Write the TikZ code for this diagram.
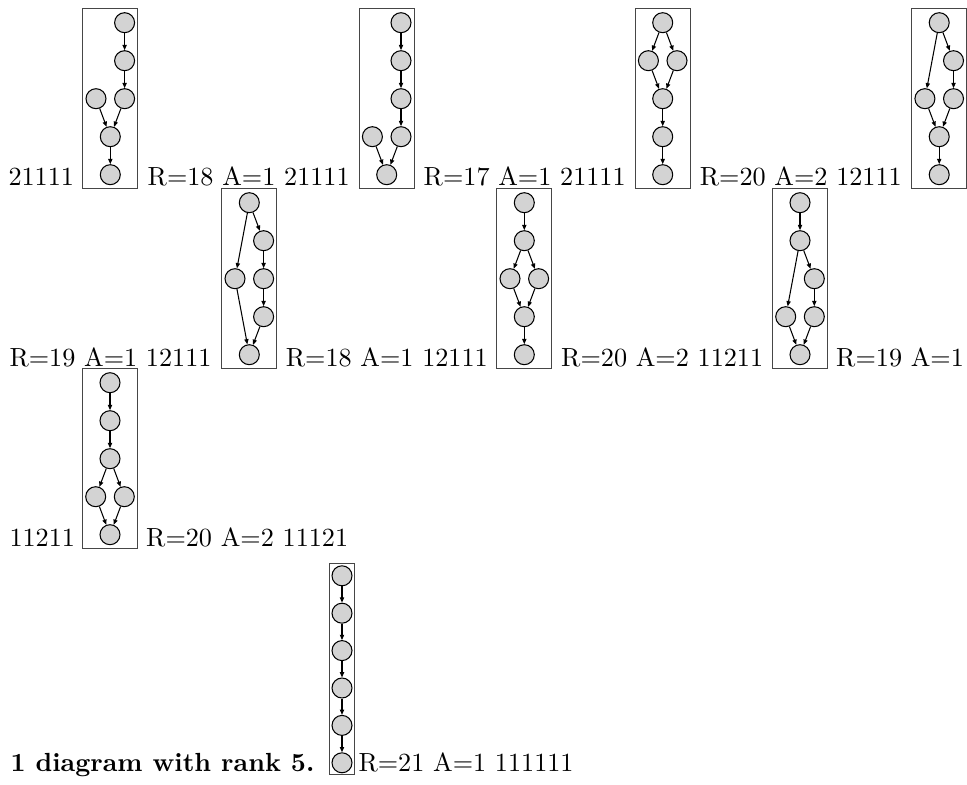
\documentclass[tikz,border=0pt]{standalone}
\usepackage{tikz}
\usetikzlibrary{arrows.meta, fit}
\definecolor{vgray}{RGB}{211,211,211}
\definecolor{fgray}{RGB}{70,70,70}
\tikzset{
    vtx/.style={circle, draw=black, fill=vgray, minimum size=7.63pt, inner sep=0pt, line width=0.4pt},
    frame/.style={rectangle, draw=fgray, line width=0.45pt, inner xsep=1.03pt, inner ysep=1.3pt},
    thinframe/.style={frame, inner xsep=0.76pt, inner ysep=0.57pt},
    edge/.style={-{Triangle[length=2pt, width=1.6pt]}, black, line width=0.4pt},
    txt/.style={inner sep=0pt, font=\normalsize},
}

\begin{document}
\begin{tikzpicture}[x=0.3817pt, y=-0.3817pt]
\useasboundingbox (0,0) rectangle (967,785);

% row 1
\node[txt, anchor=base west] (t1) at (8,186) {21111};

\begin{scope}[shift={(110.3,9.3)}]
\node[vtx] (a0) at (14.3,13.4) {};
\node[vtx] (a1) at (14.3,51.4) {};
\node[vtx] (a2) at (-14.3,89.4) {};
\node[vtx] (a3) at (14.3,89.4) {};
\node[vtx] (a4) at (0,127.4) {};
\node[vtx] (a5) at (0,165.4) {};
\node[frame, fit=(a0)(a1)(a2)(a3)(a4)(a5)] (fa) {};
\draw[edge] (a0) -- (a1);
\draw[edge] (a1) -- (a3);
\draw[edge] (a2) -- (a4);
\draw[edge] (a3) -- (a4);
\draw[edge] (a4) -- (a5);
\end{scope}

\node[txt, anchor=base] (t2) at (248.7,186) {R=18 A=1 21111};

\begin{scope}[shift={(386.7,9.3)}]
\node[vtx] (b0) at (14.3,13.4) {};
\node[vtx] (b1) at (14.3,51.4) {};
\node[vtx] (b2) at (14.3,89.4) {};
\node[vtx] (b3) at (-14.3,127.4) {};
\node[vtx] (b4) at (14.3,127.4) {};
\node[vtx] (b5) at (0,165.4) {};
\node[frame, fit=(b0)(b1)(b2)(b3)(b4)(b5)] (fb) {};
\draw[edge] (b0) -- (b1);
\draw[edge] (b1) -- (b2);
\draw[edge] (b2) -- (b4);
\draw[edge] (b3) -- (b5);
\draw[edge] (b4) -- (b5);
\end{scope}

\node[txt, anchor=base] (t3) at (524.7,186) {R=17 A=1 21111};

\begin{scope}[shift={(662.7,9.3)}]
\node[vtx] (c0) at (0,13.4) {};
\node[vtx] (c1) at (-14.3,51.4) {};
\node[vtx] (c2) at (14.3,51.4) {};
\node[vtx] (c3) at (0,89.4) {};
\node[vtx] (c4) at (0,127.4) {};
\node[vtx] (c5) at (0,165.4) {};
\node[frame, fit=(c0)(c1)(c2)(c3)(c4)(c5)] (fc) {};
\draw[edge] (c0) -- (c1);
\draw[edge] (c0) -- (c2);
\draw[edge] (c1) -- (c3);
\draw[edge] (c2) -- (c3);
\draw[edge] (c3) -- (c4);
\draw[edge] (c4) -- (c5);
\end{scope}

\node[txt, anchor=base] (t4) at (800.8,186) {R=20 A=2 12111};

\begin{scope}[shift={(939.2,9.3)}]
\node[vtx] (d0) at (0,13.4) {};
\node[vtx] (d1) at (14.3,51.4) {};
\node[vtx] (d2) at (-14.3,89.4) {};
\node[vtx] (d3) at (14.3,89.4) {};
\node[vtx] (d4) at (0,127.4) {};
\node[vtx] (d5) at (0,165.4) {};
\node[frame, fit=(d0)(d1)(d2)(d3)(d4)(d5)] (fd) {};
\draw[edge] (d0) -- (d2);
\draw[edge] (d0) -- (d1);
\draw[edge] (d1) -- (d3);
\draw[edge] (d2) -- (d4);
\draw[edge] (d3) -- (d4);
\draw[edge] (d4) -- (d5);
\end{scope}

% row 2
\node[txt, anchor=base west] (t5) at (9,366.3) {R=19 A=1 12111};

\begin{scope}[shift={(249.3,189.3)}]
\node[vtx] (e0) at (0,13.4) {};
\node[vtx] (e1) at (14.3,51.4) {};
\node[vtx] (e2) at (-14.3,89.4) {};
\node[vtx] (e3) at (14.3,89.4) {};
\node[vtx] (e4) at (14.3,127.4) {};
\node[vtx] (e5) at (0,165.4) {};
\node[frame, fit=(e0)(e1)(e2)(e3)(e4)(e5)] (fe) {};
\draw[edge] (e0) -- (e2);
\draw[edge] (e0) -- (e1);
\draw[edge] (e1) -- (e3);
\draw[edge] (e3) -- (e4);
\draw[edge] (e2) -- (e5);
\draw[edge] (e4) -- (e5);
\end{scope}

\node[txt, anchor=base] (t6) at (386.8,366.3) {R=18 A=1 12111};

\begin{scope}[shift={(524.3,189.3)}]
\node[vtx] (f0) at (0,13.4) {};
\node[vtx] (f1) at (0,51.4) {};
\node[vtx] (f2) at (-14.3,89.4) {};
\node[vtx] (f3) at (14.3,89.4) {};
\node[vtx] (f4) at (0,127.4) {};
\node[vtx] (f5) at (0,165.4) {};
\node[frame, fit=(f0)(f1)(f2)(f3)(f4)(f5)] (ff) {};
\draw[edge] (f0) -- (f1);
\draw[edge] (f1) -- (f2);
\draw[edge] (f1) -- (f3);
\draw[edge] (f2) -- (f4);
\draw[edge] (f3) -- (f4);
\draw[edge] (f4) -- (f5);
\end{scope}

\node[txt, anchor=base] (t7) at (662.2,366.3) {R=20 A=2 11211};

\begin{scope}[shift={(800,189.3)}]
\node[vtx] (h0) at (0,13.4) {};
\node[vtx] (h1) at (0,51.4) {};
\node[vtx] (h2) at (14.3,89.4) {};
\node[vtx] (h3) at (-14.3,127.4) {};
\node[vtx] (h4) at (14.3,127.4) {};
\node[vtx] (h5) at (0,165.4) {};
\node[frame, fit=(h0)(h1)(h2)(h3)(h4)(h5)] (fh) {};
\draw[edge] (h0) -- (h1);
\draw[edge] (h1) -- (h3);
\draw[edge] (h1) -- (h2);
\draw[edge] (h2) -- (h4);
\draw[edge] (h3) -- (h5);
\draw[edge] (h4) -- (h5);
\end{scope}

\node[txt, anchor=base west] (t8) at (835.7,366.3) {R=19 A=1};

% row 3
\node[txt, anchor=base west] (t9) at (9,546) {11211};

\begin{scope}[shift={(110,369.3)}]
\node[vtx] (k0) at (0,13.4) {};
\node[vtx] (k1) at (0,51.4) {};
\node[vtx] (k2) at (0,89.4) {};
\node[vtx] (k3) at (-14.3,127.4) {};
\node[vtx] (k4) at (14.3,127.4) {};
\node[vtx] (k5) at (0,165.4) {};
\node[frame, fit=(k0)(k1)(k2)(k3)(k4)(k5)] (fk) {};
\draw[edge] (k0) -- (k1);
\draw[edge] (k1) -- (k2);
\draw[edge] (k2) -- (k3);
\draw[edge] (k2) -- (k4);
\draw[edge] (k3) -- (k5);
\draw[edge] (k4) -- (k5);
\end{scope}

\node[txt, anchor=base west] (t10) at (145.7,546) {R=20 A=2 11121};

% row 4
\node[txt, anchor=base west, font=\normalsize\bfseries] (t11) at (10,771) {1 diagram with rank 5.};

\begin{scope}[shift={(342,564.3)}]
\node[vtx] (m0) at (0,11.5) {};
\node[vtx] (m1) at (0,48.9) {};
\node[vtx] (m2) at (0,86.3) {};
\node[vtx] (m3) at (0,123.7) {};
\node[vtx] (m4) at (0,161.1) {};
\node[vtx] (m5) at (0,198.5) {};
\node[thinframe, fit=(m0)(m1)(m2)(m3)(m4)(m5)] (fm) {};
\draw[edge] (m0) -- (m1);
\draw[edge] (m1) -- (m2);
\draw[edge] (m2) -- (m3);
\draw[edge] (m3) -- (m4);
\draw[edge] (m4) -- (m5);
\end{scope}

\node[txt, anchor=base west] (t12) at (358,771) {R=21 A=1 111111};

\end{tikzpicture}
\end{document}
